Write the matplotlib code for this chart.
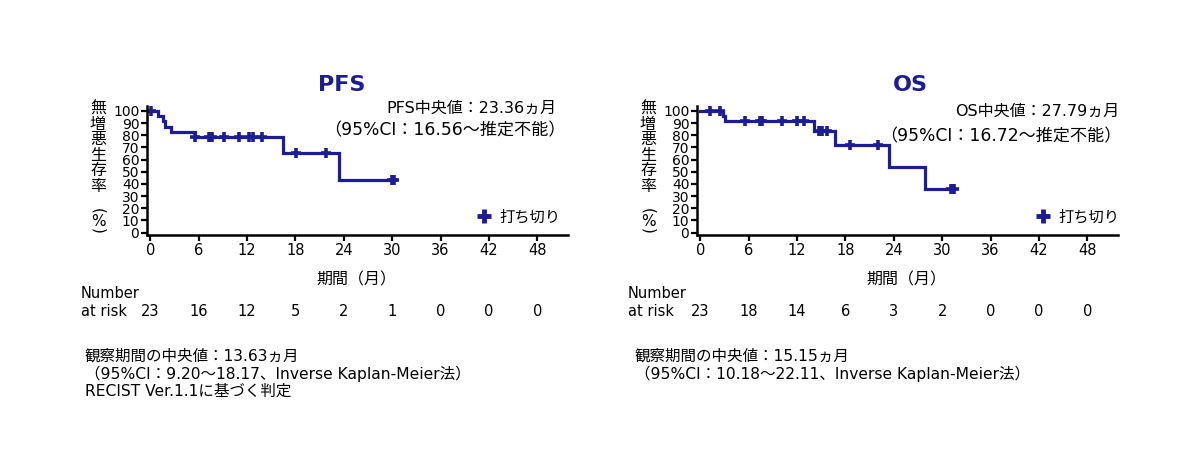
import numpy as np
import matplotlib
matplotlib.use('Agg')
import matplotlib.pyplot as plt
from matplotlib.lines import Line2D
from matplotlib.transforms import blended_transform_factory

plt.rcParams['font.family'] = ['DejaVu Sans', 'Noto Sans CJK JP']

W, H = 1201, 471
NAVY = '#1c1c96'

# ---- data ----
pfs_times = [0, 0.95, 1.57, 1.86, 2.6, 5.58, 16.5, 23.4, 30.2]
pfs_surv = [100, 95.7, 91.3, 87.0, 82.6, 78.3, 65.2, 43.5, 43.5]
pfs_censor = [0.1, 5.6, 7.3, 7.6, 9.2, 11.0, 12.2, 12.8, 13.8, 18.1, 21.8, 30.0, 30.2]
pfs_risk = [23, 16, 12, 5, 2, 1, 0, 0, 0]

os_times = [0, 2.77, 3.06, 14.14, 16.75, 23.45, 27.9, 31.5]
os_surv = [100, 95.7, 91.3, 83.7, 71.7, 53.8, 35.9, 35.9]
os_censor = [1.2, 2.44, 5.6, 7.4, 7.6, 10.2, 11.95, 12.9, 14.76, 15.1, 15.7, 18.6, 22.1, 31.1, 31.5]
os_risk = [23, 18, 14, 6, 3, 2, 0, 0, 0]

risk_months = [0, 6, 12, 18, 24, 30, 36, 42, 48]
y_ticks = list(range(0, 101, 10))

panels = [
    dict(title='PFS', times=pfs_times, surv=pfs_surv, censor=pfs_censor, risk=pfs_risk,
         med='PFS中央値：23.36ヵ月', ci='（95%CI：16.56～推定不能）',
         foot=['観察期間の中央値：13.63ヵ月',
               '（95%CI：9.20～18.17、Inverse Kaplan-Meier法）',
               'RECIST Ver.1.1に基づく判定'],
         ax_left=147, title_x=342, ylab_x=98, num_x=81, foot_x=85,
         med_xy=(556, 108), ci_xy=(566, 130), leg_x=487),
    dict(title='OS', times=os_times, surv=os_surv, censor=os_censor, risk=os_risk,
         med='OS中央値：27.79ヵ月', ci='（95%CI：16.72～推定不能）',
         foot=['観察期間の中央値：15.15ヵ月',
               '（95%CI：10.18～22.11、Inverse Kaplan-Meier法）'],
         ax_left=697, title_x=910, ylab_x=648, num_x=628, foot_x=635,
         med_xy=(1119, 111), ci_xy=(1121, 136), leg_x=1046),
]


def fx(x):
    return x / W


def fy(y):
    return 1 - y / H


fig = plt.figure(figsize=(W / 100, H / 100), dpi=100)

for p in panels:
    ax = fig.add_axes([fx(p['ax_left']), fy(234.5), 421 / W, 128.5 / H])

    # KM step curve
    ax.step(p['times'], p['surv'], where='post', color=NAVY, lw=2.3, solid_joinstyle='miter')

    # censor marks on the curve
    t = np.array(p['times'])
    s = np.array(p['surv'])
    c = np.array(p['censor'])
    lv = s[np.searchsorted(t, c, side='right') - 1]
    ax.plot(c, lv, linestyle='none', marker='+', color=NAVY, ms=7, mew=2.6)

    ax.set_xlim(-0.4, 51.8)
    ax.set_ylim(-1.5, 104)
    ax.set_xticks(risk_months)
    ax.set_yticks(y_ticks)
    ax.tick_params(direction='out', length=4.5, width=1.6, labelsize=10.5, pad=1.5)
    ax.tick_params(axis='y', labelsize=10, pad=1)
    for side in ['top', 'right']:
        ax.spines[side].set_visible(False)
    for side in ['left', 'bottom']:
        ax.spines[side].set_linewidth(1.8)

    # legend for censor mark
    h = Line2D([], [], linestyle='none', marker='+', color=NAVY, ms=10, mew=3.5)
    ax.legend([h], ['打ち切り'], loc='center left', frameon=False, fontsize=11,
              bbox_to_anchor=(fx(p['leg_x'] - 12), fy(217)), bbox_transform=fig.transFigure,
              handlelength=1.2, handletextpad=0.4, borderaxespad=0, borderpad=0)

    # title and median texts
    fig.text(fx(p['title_x']), fy(85), p['title'], color=NAVY, fontsize=16,
             fontweight='bold', ha='center', va='center')
    fig.text(fx(p['med_xy'][0]), fy(p['med_xy'][1]), p['med'], fontsize=11.5, ha='right', va='center')
    fig.text(fx(p['ci_xy'][0]), fy(p['ci_xy'][1]), p['ci'], fontsize=12.3, ha='right', va='center')

    # vertical y label
    chars = ['無', '増', '悪', '生', '存', '率']
    for i, ch in enumerate(chars):
        fig.text(fx(p['ylab_x']), fy(109 + i * 15.5), ch, fontsize=11.5,
                 family='Noto Sans CJK JP', ha='center', va='center')
    fig.text(fx(p['ylab_x']), fy(211), '(', fontsize=11, rotation=-90, ha='center', va='center')
    fig.text(fx(p['ylab_x']), fy(221.5), '%', fontsize=11, ha='center', va='center')
    fig.text(fx(p['ylab_x']), fy(231), ')', fontsize=11, rotation=-90, ha='center', va='center')

    # x label
    tr = blended_transform_factory(ax.transData, fig.transFigure)
    ax.text(25.6, fy(280), '期間（月）', transform=tr, fontsize=11.5, ha='center', va='center')

    # number at risk
    fig.text(fx(p['num_x']), fy(293), 'Number', fontsize=10.5, ha='left', va='center')
    fig.text(fx(p['num_x']), fy(311), 'at risk', fontsize=10.5, ha='left', va='center')
    for m, n in zip(risk_months, p['risk']):
        ax.text(m, fy(312), str(n), transform=tr, fontsize=10.5, ha='center', va='center')

    # footnotes
    for i, line in enumerate(p['foot']):
        fig.text(fx(p['foot_x']), fy(356.5 + i * 17.5), line, fontsize=11.2, ha='left', va='center')

fig.savefig('out.png', dpi=100, facecolor='white')
